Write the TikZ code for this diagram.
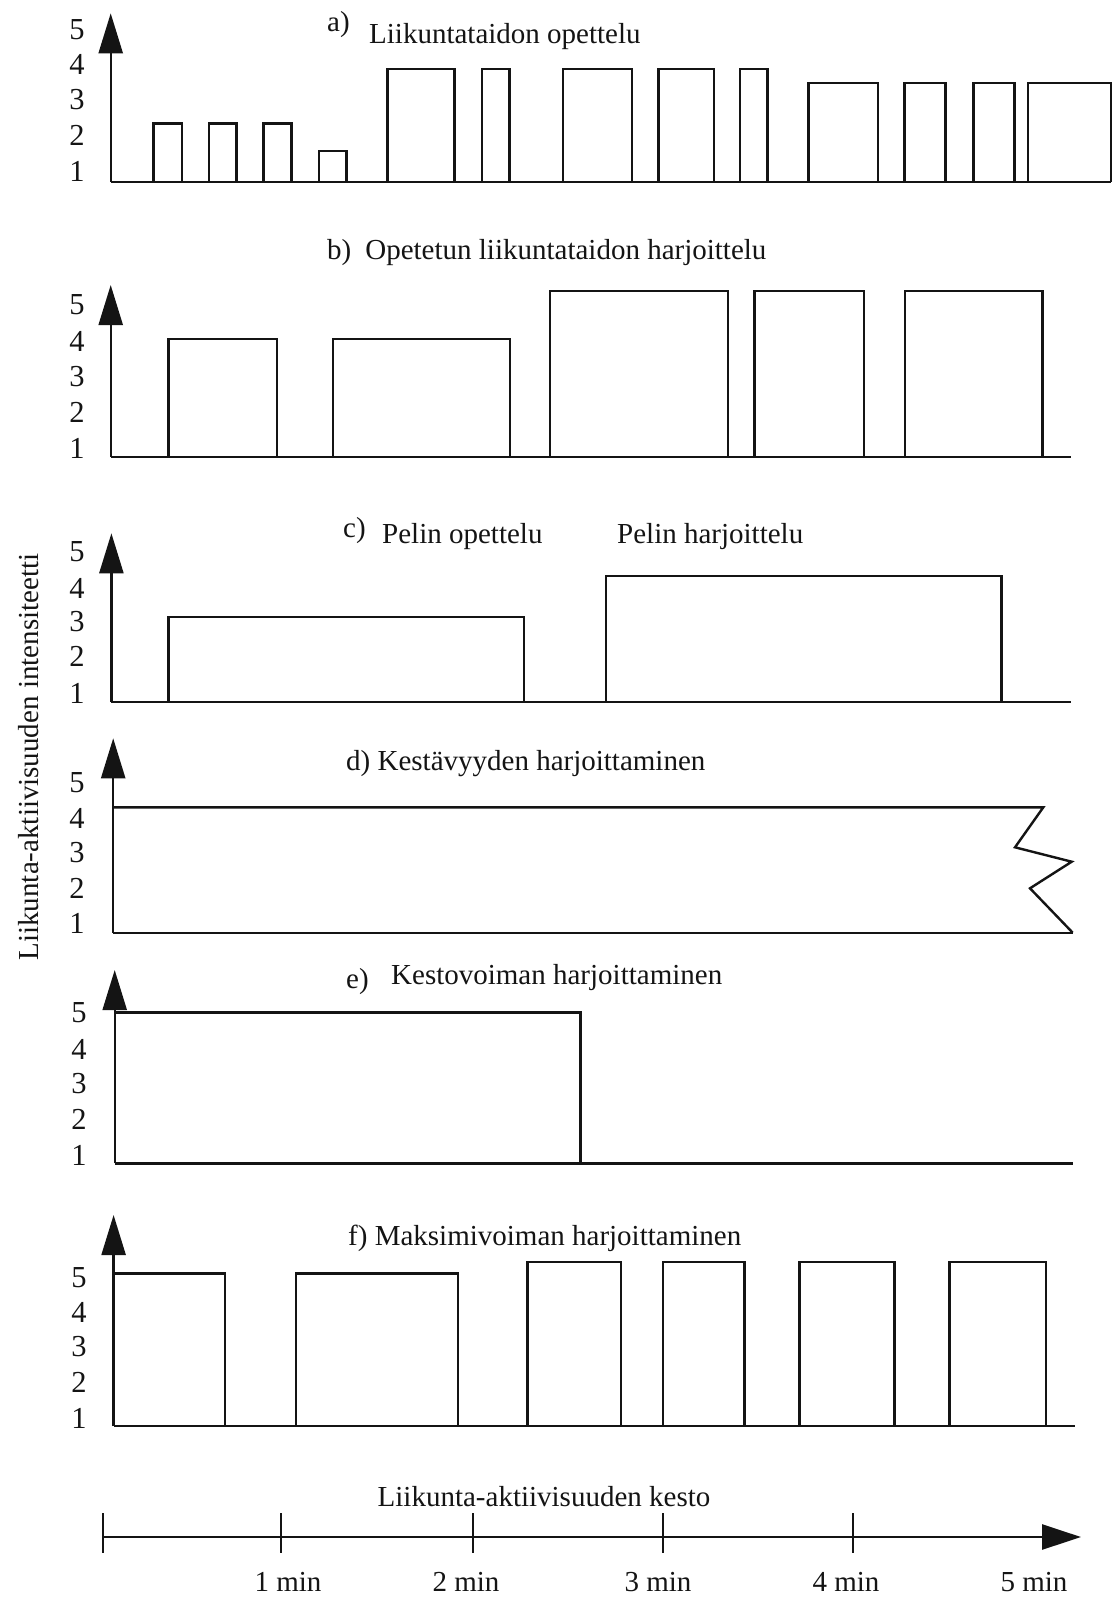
\documentclass[tikz,border=0pt]{standalone}
\usepackage{fontspec}
\setmainfont{Liberation Serif}
\usetikzlibrary{arrows.meta}
% level labels 5..1 beside one y axis: #1 panel id, #2 x, #3 y positions from 5 down to 1
\newcommand\levellabels[3]{%
  \foreach \yy [count=\k] in {#3} {%
    \pgfmathtruncatemacro\lv{6-\k}%
    \node[ticklab] (#1\lv) at (#2,\yy) {\lv};%
  }%
}
\begin{document}
\begin{tikzpicture}[x=1pt,y=-1pt,
  ink/.style={draw=black!92, line width=2.4pt, line join=miter, line cap=butt},
  bar/.style={ink},
  yaxis/.style={ink, -{Triangle[length=40pt,width=24pt]}},
  txt/.style={font=\fontsize{29}{34}\selectfont, text=black!92, inner sep=0pt},
  ticklab/.style={txt, font=\fontsize{30.5}{34}\selectfont, anchor=center},
  ttl/.style={txt, anchor=base west},
]
\useasboundingbox[fill=white] (0,0) rectangle (1115,1599);

% common y-axis label
\node[txt, rotate=90] (ylab) at (29,757) {Liikunta-aktiivisuuden intensiteetti};

% ---------- a) ----------
\coordinate (oa) at (110.7,181.7);
\coordinate (ya) at (110.7,13.3);
\draw[yaxis] (oa) -- (ya);
\draw[ink] (oa) -- (1111,181.7);
\foreach \xa/\xb/\tp in {153.6/182.1/123.3, 208.9/236.4/123.3, 263.6/291.4/123.3,
  318.9/346.4/150.7, 387.5/454.6/69, 482.1/509.6/69, 562.9/631.8/69,
  658.6/713.9/69, 740/767.5/69, 808.6/878.2/82.7, 904.3/945.4/82.7,
  973.6/1014.6/82.7, 1028.2/1111/82.7}
  \draw[bar] (\xa,181.7) |- (\xb,\tp) -- (\xb,181.7);
\levellabels{a}{77}{30,64,100,135,171}
\node[ttl] (ta0) at (327,31) {a)};
\node[ttl] (ta) at (369,43) {Liikuntataidon opettelu};

% ---------- b) ----------
\coordinate (ob) at (110.7,456.7);
\coordinate (yb) at (110.7,285);
\draw[yaxis] (ob) -- (yb);
\draw[ink] (ob) -- (1071,456.7);
\foreach \xa/\xb/\tp in {168.6/276.8/339, 333.2/510/339, 550/728.2/290.7,
  754.3/863.9/290.7, 905/1042.5/290.7}
  \draw[bar] (\xa,456.7) |- (\xb,\tp) -- (\xb,456.7);
\levellabels{b}{77}{305,341,377,412,448}
\node[ttl] (tb) at (327,259) {b)\hspace{14pt}Opetetun liikuntataidon harjoittelu};

% ---------- c) ----------
\coordinate (oc) at (111.4,701.7);
\coordinate (yc) at (111.4,533.3);
\draw[yaxis] (oc) -- (yc);
\draw[ink] (oc) -- (1071,701.7);
\foreach \xa/\xb/\tp in {168.6/524/616.7, 605.7/1001.4/576}
  \draw[bar] (\xa,701.7) |- (\xb,\tp) -- (\xb,701.7);
\levellabels{c}{77}{552,588,622,656,693}
\node[ttl] (tc0) at (343,537) {c)};
\node[ttl] (tc1) at (382,543) {Pelin opettelu};
\node[ttl] (tc2) at (617,543) {Pelin harjoittelu};

% ---------- d) ----------
\coordinate (od) at (113.2,932.7);
\coordinate (yd) at (113.2,738.3);
\draw[yaxis] (od) -- (yd);
\draw[ink] (od) -- (1072.7,932.7);
\draw[ink] (113.2,807.3) -- (1043.3,807.3) -- (1015,847.3) -- (1071.7,861.7)
  -- (1030,888.3) -- (1072.7,932.7);
\levellabels{d}{77}{783,818,853,888,923}
\node[ttl] (td) at (346,770) {d) Kestävyyden harjoittaminen};

% ---------- e) ----------
\coordinate (oe) at (114.7,1163.3);
\coordinate (ye) at (114.7,970);
\draw[yaxis] (oe) -- (ye);
\draw[ink] (oe) -- (1073,1163.3);
\draw[bar] (114.7,1012.3) -- (580.5,1012.3) -- (580.5,1163.3);
\levellabels{e}{79}{1013,1049,1084,1119,1155}
\node[ttl] (te0) at (346,988) {e)};
\node[ttl] (te) at (391,984) {Kestovoiman harjoittaminen};

% ---------- f) ----------
\coordinate (of) at (113.6,1426);
\coordinate (yf) at (113.6,1215);
\draw[yaxis] (of) -- (yf);
\draw[ink] (of) -- (1074.6,1426);
\foreach \xa/\xb/\tp in {113.6/225/1273.3, 295.7/458.2/1273.3, 527.5/621/1262,
  662.9/744.3/1262, 799.6/894.3/1262, 949.6/1046/1262}
  \draw[bar] (\xa,1426) |- (\xb,\tp) -- (\xb,1426);
\levellabels{f}{79}{1278,1312,1347,1382,1418}
\node[ttl] (tf) at (348,1245) {f) Maksimivoiman harjoittaminen};

% ---------- time axis ----------
\coordinate (t0) at (103,1537);
\coordinate (tend) at (1081,1537);
\draw[ink, line width=2.6pt, -{Triangle[length=39pt,width=25pt]}] (t0) -- (tend);
\foreach \tx in {103,281,473,663,853}
  \draw[ink, line width=2pt] (\tx,1513) -- (\tx,1553);
\node[txt, anchor=base] (tk) at (544,1506) {Liikunta-aktiivisuuden kesto};
\foreach \lx/\mm in {288/1,466/2,658/3,846/4,1034/5}
  \node[txt, anchor=base] (m\mm) at (\lx,1591) {\mm{} min};
\end{tikzpicture}
\end{document}
